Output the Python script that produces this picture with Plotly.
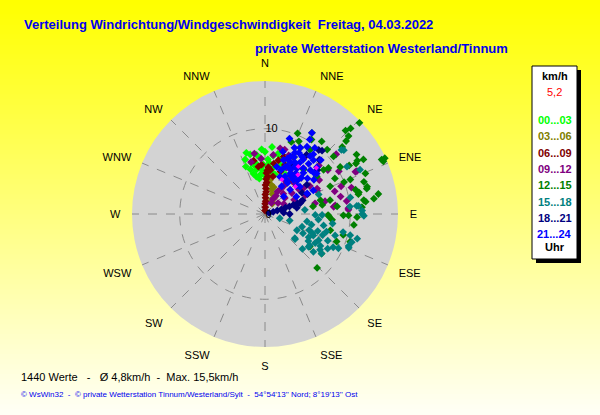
import plotly.graph_objects as go

# --- wind data: direction (deg) and speed (km/h) per 3h block ---
lime_dir = [346, 345, 347, 6, 3, 15, 22, 356, 340, 342, 350, 352, 355, 358, 0, 2, 5, 8,
            10, 12, 14, 18, 20, 344, 348, 351, 354, 357, 1, 9, 25, 28, 338, 343, 349]
lime_spd = [7.2, 6.2, 4.5, 7.9, 6.4, 6.6, 5.6, 5.2, 6.8, 5.5, 6.0, 7.0, 6.6, 5.8, 7.3, 5.0, 6.0, 6.9,
            5.5, 7.2, 4.8, 6.0, 7.0, 4.9, 5.8, 4.2, 4.7, 7.6, 4.4, 4.9, 6.3, 5.2, 6.0, 7.5, 5.3]

olive_dir = [28, 25, 8, 12, 20, 30, 15, 5, 35, 18]
olive_spd = [1.7, 1.9, 4.0, 3.5, 2.5, 2.2, 3.0, 4.5, 1.5, 3.3]

maroon_dir = [1, 2, 1, 3, 2, 1, 3, 2, 1, 3, 2, 4, 2, 3, 5, 356, 18, 34, 26, 4,
              352, 7, 10, 14, 22, 30, 40, 348, 12, 20]
maroon_spd = [0.4, 0.8, 1.2, 1.5, 1.9, 2.3, 2.6, 3.0, 3.4, 3.7, 4.1, 4.4, 4.8, 5.1, 5.4, 5.8, 7.1, 5.6, 7.5, 5.5,
              5.6, 5.2, 6.0, 6.5, 6.2, 6.8, 5.0, 6.4, 4.5, 5.3]

purple_dir = [30, 31, 32, 33, 50, 51, 52, 53, 62, 64, 65, 66, 42, 44, 45, 13, 17, 356, 65, 77,
              84, 81, 50, 65, 73, 72, 87, 64, 78, 78, 83, 86, 8, 22, 35, 40, 55, 58, 70, 60,
              48, 25, 350, 345, 28, 29, 34, 36, 56, 58]
purple_spd = [1.5, 2.5, 3.5, 4.5, 2.0, 3.0, 4.0, 4.9, 2.5, 3.8, 5.2, 6.7, 3.2, 5.0, 6.0, 7.9, 7.9, 6.5, 11.9, 9.1,
              8.1, 9.7, 10.9, 11.7, 10.6, 8.6, 9.8, 6.8, 7.2, 6.0, 8.3, 9.8, 7.0, 7.4, 8.2, 7.0, 9.0, 7.5, 9.5, 10.0,
              8.5, 6.0, 7.2, 6.3, 2.0, 3.0, 4.0, 5.2, 5.5, 6.2]

green_dir = [46, 45, 44, 48, 65, 65, 60, 68, 80, 82, 76, 97, 136, 108, 105, 111, 35, 32, 38, 44,
             50, 58, 53, 67, 54, 41, 28, 25, 76, 91, 81, 91, 92, 82, 68, 77, 84, 126, 125, 104,
             95, 92, 81, 47, 57, 61, 61, 72, 75, 83, 78, 66, 75, 54, 63, 68, 60, 49, 78, 86,
             91, 20, 22, 30, 27]
green_spd = [15.4, 14.2, 13.6, 12.8, 15.5, 15.1, 12.5, 12.7, 13.5, 12.9, 12.3, 10.5, 8.8, 10.5, 9.5, 9.0, 9.2, 10.3, 10.8, 10.5,
             10.5, 10.4, 8.6, 8.3, 7.5, 6.9, 8.8, 9.4, 6.7, 7.4, 5.7, 9.2, 10.8, 11.7, 10.8, 11.3, 8.5, 6.5, 8.1, 7.9,
             7.9, 7.5, 6.8, 13.4, 12.8, 13.2, 12.2, 12.2, 12.4, 11.9, 11.2, 15.2, 11.0, 9.2, 9.2, 10.0, 11.4, 12.0, 7.8, 11.4,
             9.8, 9.0, 10.2, 11.0, 7.5]

teal_dir = [106, 105, 117, 130, 117, 103, 96, 101, 106, 116, 120, 127, 123, 116, 107, 103, 104, 108, 91, 88,
            111, 125, 125, 129, 112, 105, 79, 85, 50, 51, 65, 60, 70, 91, 85, 90, 85, 84, 91, 110,
            112, 108, 114, 118, 110, 120, 113, 122, 109, 100, 98, 119, 128, 133, 115]
teal_spd = [1.8, 3.0, 4.2, 4.6, 5.0, 5.6, 6.3, 7.0, 7.5, 7.0, 6.8, 6.4, 7.7, 8.9, 8.6, 9.4, 10.3, 10.7, 11.6, 11.4,
            10.5, 8.1, 6.4, 4.5, 10.6, 11.2, 10.2, 10.8, 11.7, 11.9, 12.3, 11.1, 6.7, 6.7, 11.0, 11.4, 10.0, 4.7, 5.9, 5.5,
            6.0, 6.5, 6.2, 5.8, 7.2, 7.5, 8.0, 6.0, 4.6, 5.0, 8.0, 8.4, 7.2, 6.0, 9.5]

navy_dir = [76, 75, 74, 74, 73, 73, 72, 72, 71, 70, 90, 86, 79, 73, 40, 42, 45, 50, 35, 30, 55, 60, 65]
navy_spd = [0.5, 1.0, 1.5, 2.0, 2.5, 3.0, 3.5, 4.0, 4.5, 4.7, 2.9, 2.2, 3.8, 4.3, 9.8, 10.0, 9.0, 8.0, 8.5, 6.5, 6.0, 5.0, 5.5]

blue_dir = [18, 30, 31, 28, 24, 46, 46, 33, 47, 61, 64, 14, 35, 52, 52, 32, 32, 43, 22, 38,
            32, 37, 46, 64, 48, 26, 19, 31, 30, 35, 25, 28, 40, 38, 22, 33, 42, 27, 20, 45,
            36, 48, 30, 40, 50, 55, 24, 16, 34, 29, 41, 44, 37, 26, 39, 34, 50, 23]
blue_spd = [9.3, 11.0, 10.2, 8.8, 7.4, 9.1, 7.4, 4.7, 3.0, 4.2, 6.3, 5.7, 7.8, 7.7, 5.2, 5.6, 6.6, 6.6, 4.7, 8.6,
            9.3, 9.7, 4.1, 5.5, 8.2, 8.0, 6.7, 3.8, 6.0, 6.5, 6.2, 5.0, 7.0, 5.8, 7.0, 8.0, 8.5, 7.5, 5.5, 6.0,
            4.5, 5.0, 7.0, 5.2, 6.5, 7.0, 8.5, 7.6, 7.2, 8.2, 7.8, 5.5, 6.0, 6.8, 9.0, 5.4, 7.5, 6.0]

magenta_dir = [35, 48, 48, 26, 40]
magenta_spd = [6.8, 4.8, 8.1, 4.5, 6.0]

hour_labels = ["00...03", "03...06", "06...09", "09...12", "12...15", "15...18", "18...21", "21...24"]
hour_colors = ["#00ff00", "#808000", "#800000", "#800080", "#008000", "#008080", "#000080", "#0000ff"]
compass = ["N", "NNE", "NE", "ENE", "E", "ESE", "SE", "SSE",
           "S", "SSW", "SW", "WSW", "W", "WNW", "NW", "NNW"]
current_speed = "5,2"

W, H = 600, 415
FONT = "Liberation Sans, Arial, sans-serif"


def px(x):
    return x / W


def py(y):
    return 1 - y / H


groups = [(lime_dir, lime_spd), (olive_dir, olive_spd), (maroon_dir, maroon_spd),
          (purple_dir, purple_spd), (green_dir, green_spd), (teal_dir, teal_spd),
          (navy_dir, navy_spd), (blue_dir, blue_spd)]

fig = go.Figure()
for (d, s), col, lab in zip(groups, hour_colors, hour_labels):
    fig.add_trace(go.Scatterpolar(
        theta=d, r=s, mode="markers", name=lab,
        marker=dict(symbol="diamond", size=6, color=col, line=dict(width=0)),
    ))
fig.add_trace(go.Scatterpolar(
    theta=magenta_dir, r=magenta_spd, mode="markers",
    marker=dict(symbol="diamond", size=4, color="#ff00ff", line=dict(width=0)),
))

# yellow -> pale gradient background
shapes = []
n = 83
for k in range(n):
    b = int(245 * k / (n - 1))
    shapes.append(dict(type="rect", xref="paper", yref="paper", x0=0, x1=1,
                       y0=1 - (k + 1) / n, y1=1 - k / n + 0.002,
                       fillcolor=f"rgb(255,255,{b})", line=dict(width=0), layer="below"))

# legend box with shadow
shapes.append(dict(type="rect", xref="paper", yref="paper", x0=px(536), x1=px(581),
                   y0=py(263), y1=py(70), fillcolor="black", line=dict(width=0)))
shapes.append(dict(type="rect", xref="paper", yref="paper", x0=px(532), x1=px(577),
                   y0=py(259), y1=py(66), fillcolor="white", line=dict(color="black", width=1)))

ann = []


def text(x, y, s, size, color, anchor="left", bold=False):
    ann.append(dict(x=px(x), y=py(y), xref="paper", yref="paper", text=f"<b>{s}</b>" if bold else s,
                    showarrow=False, xanchor=anchor, yanchor="middle",
                    font=dict(family=FONT, size=size, color=color)))


text(22, 25, "Verteilung Windrichtung/Windgeschwindigkeit  Freitag, 04.03.2022", 13, "#0000ee", bold=True)
text(510, 49, "private Wetterstation Westerland/Tinnum", 13, "#0000ee", anchor="right", bold=True)
text(19, 377, "1440 Werte   -   Ø 4,8km/h  -  Max. 15,5km/h", 11, "black")
text(19, 394, "© WsWin32  -  © private Wetterstation Tinnum/Westerland/Sylt  -  54°54'13'' Nord; 8°19'13'' Ost",
     8, "#0000ee")

text(554.5, 76, "km/h", 11, "black", anchor="center", bold=True)
text(554.5, 92, current_speed, 11, "#ff0000", anchor="center")
for i, (lab, col) in enumerate(zip(hour_labels, hour_colors)):
    text(554.5, 120 + i * 16.3, lab, 11, col, anchor="center", bold=True)
text(554.5, 247, "Uhr", 11, "black", anchor="center", bold=True)

fig.update_layout(
    width=W, height=H,
    margin=dict(l=0, r=0, t=0, b=0),
    paper_bgcolor="#ffff80",
    showlegend=False,
    shapes=shapes,
    annotations=ann,
    polar=dict(
        domain=dict(x=[px(265 - 133), px(265 + 133)], y=[py(214 + 133), py(214 - 133)]),
        bgcolor="#d3d3d3",
        angularaxis=dict(
            direction="clockwise", rotation=90,
            tickmode="array", tickvals=[i * 22.5 for i in range(16)], ticktext=compass,
            showline=False, gridcolor="#8a8a8a", griddash="dash", gridwidth=1,
            ticks="outside", ticklen=9, tickcolor="rgba(0,0,0,0)",
            tickfont=dict(family=FONT, size=11, color="black"),
        ),
        radialaxis=dict(
            range=[0, 15.6], tickvals=[0, 10], showline=False,
            gridcolor="#8a8a8a", griddash="dash", gridwidth=1,
            angle=90, tickangle=90, ticks="",
            tickfont=dict(family=FONT, size=11, color="black"),
        ),
    ),
)

# page body has a default 8px margin; drop it so the figure sits at the window origin
fig.write_html("out.html", config={"displayModeBar": False},
               post_script="document.body.style.margin='0';")
